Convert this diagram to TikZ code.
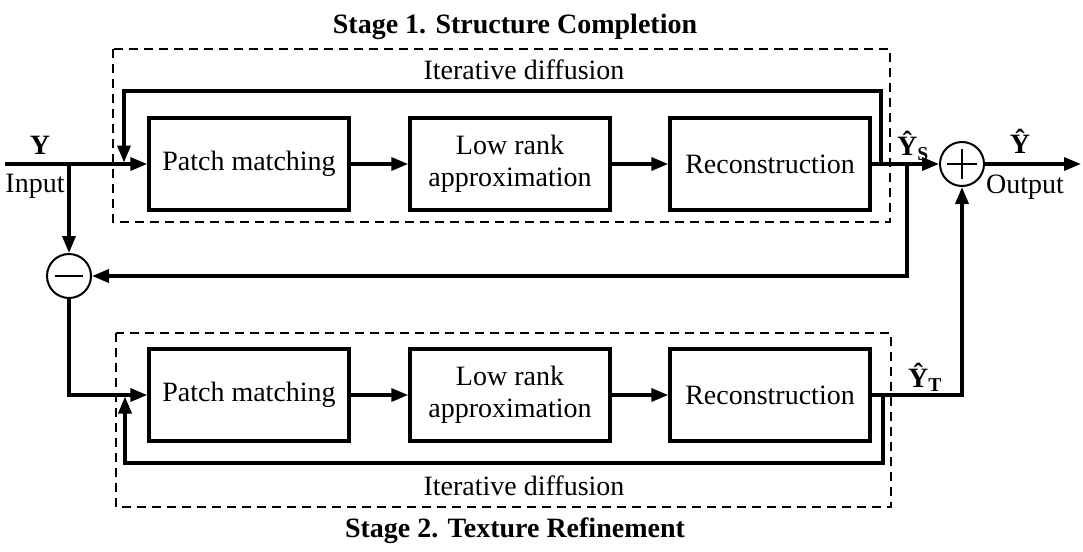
\documentclass[tikz,border=0pt]{standalone}
\usepackage{fontspec}
\setmainfont{Liberation Serif}
\usetikzlibrary{arrows.meta}
\tikzset{
  block/.style={draw, line width=3.5pt, minimum width=200pt, minimum height=92pt, align=center, inner sep=0pt},
  sumnode/.style={draw, circle, line width=2pt, minimum size=44pt, inner sep=0pt},
  flow/.style={line width=3.5pt, -{Triangle[length=17pt,width=13pt]}},
  stagebox/.style={line width=1.3pt, dash pattern=on 9pt off 6pt},
  label/.style={inner sep=0pt},
}
\begin{document}
\begin{tikzpicture}[x=1pt,y=-1pt,font=\fontsize{28}{32}\selectfont]
\useasboundingbox (0,0) rectangle (1083,551);
% stage 1
\draw[stagebox] (113,49) rectangle (890,222);
\node[label,font=\fontsize{28}{32}\selectfont\bfseries] (title1) at (515,27) {Stage 1. Structure Completion};
\node[label] (diff1) at (524,70) {Iterative diffusion};
\node[block] (pm1) at (249,164) {Patch matching};
\node[block] (lr1) at (510,164) {Low rank\\approximation};
\node[block] (rc1) at (770,164) {Reconstruction};
% stage 2
\draw[stagebox] (116,333) rectangle (891,507);
\node[label] (diff2) at (524,486) {Iterative diffusion};
\node[label,font=\fontsize{28}{32}\selectfont\bfseries] (title2) at (515,531) {Stage 2. Texture Refinement};
\node[block] (pm2) at (249,395) {Patch matching};
\node[block] (lr2) at (510,395) {Low rank\\approximation};
\node[block] (rc2) at (770,395) {Reconstruction};
% adders
\node[sumnode] (add) at (962,164) {};
\draw[line width=2.5pt] (add.center) ++(-15,0) -- ++(30,0) (add.center) ++(0,-15) -- ++(0,30);
\node[sumnode] (sub) at (69,276) {};
\draw[line width=2.5pt] (sub.center) ++(-14,0) -- ++(28,0);
% main path
\coordinate (in) at (5,164);
\coordinate (out) at (1081,164);
\coordinate (split1) at (69,164);
\coordinate (split2) at (907,164);
\draw[flow] (in) -- (pm1);
\draw[flow] (pm1) -- (lr1);
\draw[flow] (lr1) -- (rc1);
\draw[flow] (rc1) -- (add);
\draw[flow] (add) -- (out);
\draw[flow] (split1) -- (sub);
\draw[flow] (split2) |- (sub);
\draw[flow] (sub.south) |- (pm2.west);
\draw[flow] (pm2) -- (lr2);
\draw[flow] (lr2) -- (rc2);
\draw[flow] (rc2.east) -| (add.south);
% feedback loops
\coordinate (fb1a) at (881,164);
\coordinate (fb1b) at (124,164);
\draw[flow, shorten >=1.5pt] (fb1a) -- (881,91) -- (124,91) -- (fb1b);
\coordinate (fb2a) at (883,395);
\coordinate (fb2b) at (125,395);
\draw[flow, shorten >=1.5pt] (fb2a) -- (883,463) -- (125,463) -- (fb2b);
% labels
\node[label,font=\fontsize{28}{32}\selectfont\bfseries] (yin) at (40,145) {Y};
\node[label] (inp) at (35,186) {Input};
\node[label,font=\fontsize{28}{32}\selectfont\bfseries] (ys) at (913,146) {Ŷ\textsubscript{S}};
\node[label,font=\fontsize{28}{32}\selectfont\bfseries] (yout) at (1020,141) {Ŷ};
\node[label] (outp) at (1025,187) {Output};
\node[label,font=\fontsize{28}{32}\selectfont\bfseries] (yt) at (925,377) {Ŷ\textsubscript{T}};
\end{tikzpicture}
\end{document}
